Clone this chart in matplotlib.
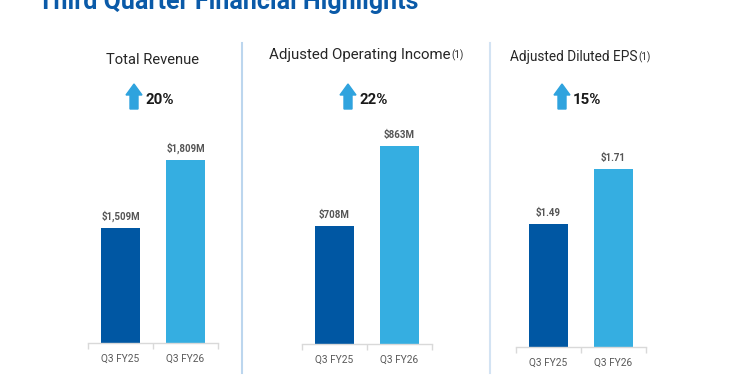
import matplotlib
matplotlib.use("Agg")
import matplotlib.pyplot as plt
from matplotlib.patches import Polygon
from matplotlib.lines import Line2D

# chart data
periods = ["Q3 FY25", "Q3 FY26"]
panel_titles = ["Total Revenue", "Adjusted Operating Income", "Adjusted Diluted EPS"]
panel_notes = ["", "(1)", "(1)"]
revenue = [1509, 1809]
op_income = [708, 863]
eps = [1.49, 1.71]
revenue_labels = ["$1,509M", "$1,809M"]
op_income_labels = ["$708M", "$863M"]
eps_labels = ["$1.49", "$1.71"]
growth = ["20%", "22%", "15%"]

DARK = "#0057a3"
LIGHT = "#35aee1"
ARROW = "#2fa3de"
FONT = ["Roboto", "DejaVu Sans"]

W, H = 750, 375
fig = plt.figure(figsize=(7.5, 3.75), dpi=100)


def fx(px):
    return px / W


def fy(py):
    return 1 - py / H


# title, cut off at the top of the slide
fig.text(fx(38), fy(9.5), "Third Quarter Financial Highlights", fontsize=18,
         fontweight="bold", color="#0a5aa8", family=FONT, va="baseline")

# panel layout: left edge, baseline (px), y range, title y, title size
panels = [
    (88, 343, 1002, 2250, 60, 10.6, revenue, revenue_labels),
    (302, 344, 479, 1029, 55, 10.8, op_income, op_income_labels),
    (516, 347, 0.998, 2.146, 57, 9.8, eps, eps_labels),
]

renderer = fig.canvas.get_renderer()

for i, (left, base, ylo, yhi, ty, tsize, vals, labels) in enumerate(panels):
    ax = fig.add_axes([fx(left), fy(base), fx(130), (base - 60) / H])
    ax.bar(range(len(vals)), vals, width=0.585, color=[DARK, LIGHT])
    ax.set_xlim(-0.5, 1.5)
    ax.set_ylim(ylo, yhi)
    for x, v, lab in zip(range(len(vals)), vals, labels):
        ax.annotate(lab, (x, v), xytext=(0, 4), textcoords="offset points",
                    ha="center", va="bottom", fontsize=7, fontweight="bold",
                    color="#555555", family=FONT)
    for s in ["left", "right", "top"]:
        ax.spines[s].set_visible(False)
    ax.spines["bottom"].set_color("#d9d9d9")
    ax.spines["bottom"].set_linewidth(1)
    ax.set_yticks([])
    ax.set_xticks(range(len(periods)))
    ax.set_xticklabels(periods, fontsize=7.3, color="#595959", family=FONT)
    ax.tick_params(axis="x", which="major", length=0, pad=8)
    ax.set_xticks([-0.5, 0.5, 1.5], minor=True)
    ax.tick_params(axis="x", which="minor", length=4, color="#d9d9d9", width=1)

    cx = left + 65
    # panel heading with optional superscript note
    t = fig.text(fx(cx), fy(ty), panel_titles[i], fontsize=tsize, color="#262626",
                 family=FONT, ha="center", va="center")
    if panel_notes[i]:
        sup = fig.text(0, 0, panel_notes[i], fontsize=7, color="#262626",
                       family=FONT, ha="left", va="top")
        sw = sup.get_window_extent(renderer).width
        t.set_x(fx(cx - sw / 2 - 1))
        bb = t.get_window_extent(renderer)
        sup.set_position((bb.x1 / W + fx(1), (bb.y1 - 1) / H))

    # growth arrow and percent
    ax_l = cx - 27
    top, bot = 84, 109
    pts = [(ax_l, top + 11), (ax_l + 8, top), (ax_l + 16, top + 11),
           (ax_l + 12, top + 11), (ax_l + 12, bot), (ax_l + 4, bot),
           (ax_l + 4, top + 11)]
    fig.patches.append(Polygon([(fx(px), fy(py)) for px, py in pts],
                               closed=True, color=ARROW,
                               transform=fig.transFigure, figure=fig))
    fig.text(fx(cx - 8), fy(100), growth[i], fontsize=10.8, fontweight="bold",
             color="#1a1a1a", family=FONT, ha="left", va="center")

# light dividers between panels
for x, c in [(242, "#bcd6ee"), (490, "#d3e3f3")]:
    fig.add_artist(Line2D([fx(x), fx(x)], [fy(43), fy(373)], color=c, lw=1.5,
                          transform=fig.transFigure))

fig.savefig("out.png", dpi=100, facecolor="white")
